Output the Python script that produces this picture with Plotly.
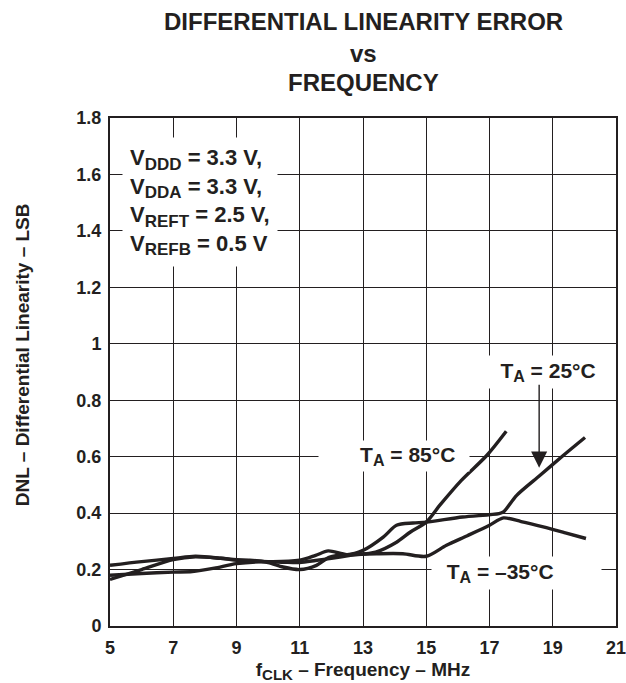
import plotly.graph_objects as go

# ---- data ----
freq_85 = [5, 6, 7, 7.6, 8.3, 9, 10, 10.5, 11, 11.5, 12, 12.6, 13.4, 14.06, 14.5, 15, 15.43, 16.11, 16.92, 17.53]
dnl_85 = [0.18, 0.186, 0.191, 0.193, 0.205, 0.221, 0.228, 0.226, 0.225, 0.232, 0.24, 0.25, 0.262, 0.297, 0.333, 0.368, 0.428, 0.516, 0.605, 0.69]

freq_25 = [5, 6, 7, 7.7, 8.5, 9, 10, 11, 11.5, 11.9, 12.5, 13, 13.64, 14.06, 14.58, 15, 16.15, 17.3, 17.44, 17.86, 18.6, 19.34, 20.02]
dnl_25 = [0.165, 0.2, 0.235, 0.245, 0.24, 0.235, 0.228, 0.233, 0.25, 0.266, 0.253, 0.268, 0.315, 0.357, 0.365, 0.368, 0.386, 0.398, 0.404, 0.463, 0.534, 0.605, 0.668]

freq_m35 = [5, 6, 7, 7.7, 8.5, 9, 9.42, 10, 10.47, 11, 11.53, 11.95, 12.58, 13.43, 14.26, 15, 15.64, 16.3, 17, 17.44, 18, 18.7, 19.4, 20.05]
dnl_m35 = [0.215, 0.228, 0.239, 0.247, 0.24, 0.233, 0.233, 0.225, 0.209, 0.2, 0.215, 0.244, 0.253, 0.256, 0.256, 0.247, 0.286, 0.32, 0.357, 0.383, 0.37, 0.351, 0.33, 0.31]

x_ticks = [5, 7, 9, 11, 13, 15, 17, 19, 21]
y_ticks = [0, 0.2, 0.4, 0.6, 0.8, 1.0, 1.2, 1.4, 1.6, 1.8]
y_tick_text = ["0", "0.2", "0.4", "0.6", "0.8", "1", "1.2", "1.4", "1.6", "1.8"]

title_lines = ["DIFFERENTIAL LINEARITY ERROR", "vs", "FREQUENCY"]


def sub(s, px):
    return "<sub><span style='font-size:%dpx'>%s</span></sub>" % (px, s)


x_title = "f" + sub("CLK", 15) + " – Frequency – MHz"
y_title = "DNL – Differential Linearity – LSB"
cond_text = ("V" + sub("DDD", 17) + " = 3.3 V,<br>V" + sub("DDA", 17) + " = 3.3 V,<br>"
             "V" + sub("REFT", 17) + " = 2.5 V,<br>V" + sub("REFB", 17) + " = 0.5 V")
NB = "\u00a0"
lab25 = "T" + sub("A", 16) + " = 25°C"
lab85 = "T" + sub("A", 16) + " = 85°C" + NB * 2
labm35 = NB * 2 + "T" + sub("A", 16) + " = –35°C"

FONT = "Liberation Sans, Arial, sans-serif"
INK = "#231f20"

fig = go.Figure()
for fx, fy, name in [(freq_85, dnl_85, "85"), (freq_25, dnl_25, "25"), (freq_m35, dnl_m35, "-35")]:
    fig.add_trace(go.Scatter(x=fx, y=fy, mode="lines", name=name,
                             line=dict(color=INK, width=3.4, shape="spline", smoothing=0.8),
                             showlegend=False, hoverinfo="skip"))

bold = dict(family=FONT, color=INK, weight="bold")

fig.update_layout(
    width=626, height=683,
    margin=dict(l=110, r=10, t=118, b=57, autoexpand=False),
    paper_bgcolor="white", plot_bgcolor="white",
    font=dict(family=FONT, color=INK, size=17, weight="bold"),
    xaxis=dict(range=[5, 21], tickvals=x_ticks, ticks="", showgrid=True, automargin=False,
               gridcolor=INK, gridwidth=1, zeroline=False, ticklabeloverflow="allow",
               showline=True, linecolor=INK, linewidth=2, mirror=True,
               tickfont=dict(size=18, **bold), ticklabelstandoff=4,
               title=dict(text=x_title, font=dict(size=19, **bold), standoff=12)),
    yaxis=dict(range=[0, 1.8], tickvals=y_ticks, ticktext=y_tick_text, ticks="", automargin=False,
               showgrid=True, gridcolor=INK, gridwidth=1, zeroline=False, ticklabeloverflow="allow",
               showline=True, linecolor=INK, linewidth=2, mirror=True,
               tickfont=dict(size=18, **bold), ticklabelstandoff=3),
)

anns = []
# title lines
for txt, yy in zip(title_lines, [1.189, 1.127, 1.069]):
    anns.append(dict(text=txt, xref="paper", yref="paper", x=0.5, y=yy,
                     xanchor="center", yanchor="middle", showarrow=False,
                     font=dict(size=24, **bold)))
# y axis title
anns.append(dict(text=y_title, xref="paper", yref="paper", x=-0.174, y=0.535,
                 xanchor="center", yanchor="middle", textangle=-90, showarrow=False,
                 font=dict(size=19, **bold)))
# condition box
anns.append(dict(text=cond_text, xref="x", yref="y", x=5.38, y=1.733,
                 xanchor="left", yanchor="top", align="left", showarrow=False,
                 bgcolor="white", borderpad=7, font=dict(size=22, **bold)))
# temperature labels
anns.append(dict(text=lab25, xref="x", yref="y", x=18.86, y=0.9,
                 xanchor="center", yanchor="middle", showarrow=False, width=120,
                 bgcolor="white", borderpad=3, font=dict(size=21, **bold)))
anns.append(dict(text=lab85, xref="x", yref="y", x=13.97, y=0.601,
                 xanchor="center", yanchor="middle", showarrow=False, width=146,
                 align="right", bgcolor="white", borderpad=2, font=dict(size=21, **bold)))
anns.append(dict(text=labm35, xref="x", yref="y", x=17.86, y=0.189,
                 xanchor="center", yanchor="middle", showarrow=False, width=163,
                 align="left", bgcolor="white", borderpad=3, font=dict(size=21, **bold)))
# arrow from the 25°C label
anns.append(dict(text="", xref="x", yref="y", x=18.57, y=0.561,
                 axref="x", ayref="y", ax=18.57, ay=0.86,
                 showarrow=True, arrowhead=2, arrowsize=2.3, arrowwidth=1.4,
                 arrowcolor=INK, standoff=0))
fig.update_layout(annotations=anns)

fig.write_html("out.html", config={"displayModeBar": False},
               post_script="document.body.style.margin='0';document.body.style.padding='0';")
